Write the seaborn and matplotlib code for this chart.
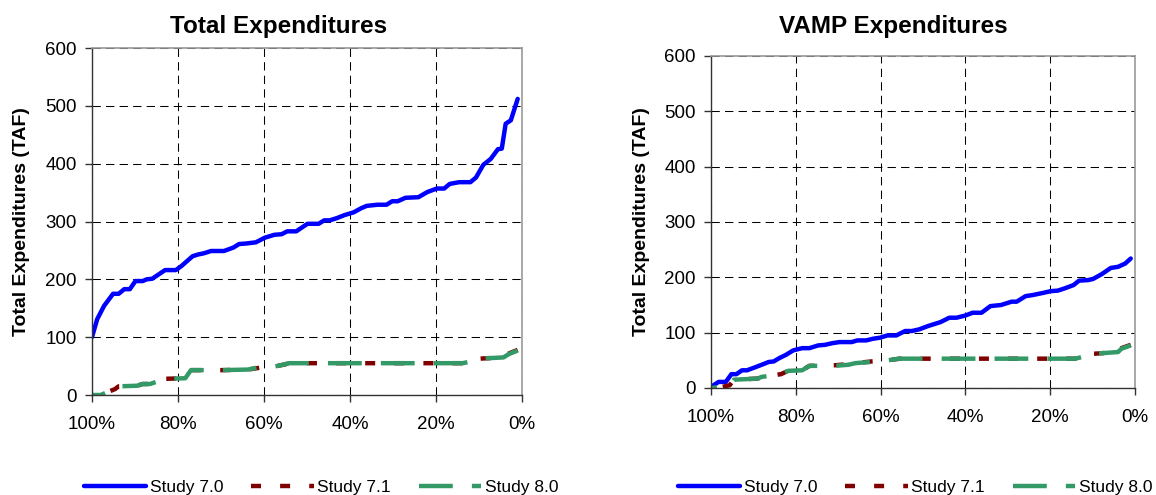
import matplotlib
matplotlib.use("Agg")
import matplotlib.pyplot as plt
import seaborn as sns

# exceedance probability (%) and expenditures (TAF)
total_x_70 = [100, 98.8, 97.2, 95.1, 93.8, 92.5, 91.2, 89.9, 88.2, 87.3, 86.0, 83.0, 80.5, 79.2,
              76.6, 75.3, 74.0, 72.3, 69.3, 67.1, 65.8, 64.1, 61.9, 59.8, 57.6, 55.9, 54.6, 52.5,
              49.9, 47.3, 46.0, 44.7, 43.0, 41.3, 39.1, 37.4, 36.1, 33.6, 31.5, 30.2, 28.9, 27.1,
              24.1, 22.0, 19.8, 18.1, 16.8, 14.6, 12.0, 10.7, 9.0, 7.3, 5.6, 4.7, 3.8, 2.6, 1.0]
total_y_70 = [100, 131, 154, 175, 175, 183, 183, 197, 197, 200, 201, 216, 216, 223,
              240, 243, 245, 249, 249, 255, 261, 262, 264, 272, 277, 278, 283, 283,
              296, 296, 302, 302, 306, 311, 316, 323, 327, 329, 329, 335, 335, 341,
              342, 351, 357, 357, 365, 368, 368, 376, 398, 408, 425, 426, 469, 475, 512]

total_x_71 = [100, 98.0, 96.4, 94.7, 93.8, 89.5, 88.2, 86.5, 83.0, 78.3, 77.0, 69.7, 63.7, 61.1,
              57.7, 55.1, 54.2, 13.8, 12.5, 11.5, 9.5, 4.3, 3.0, 1.0]
total_y_71 = [0, 0, 5, 10, 15, 16, 19, 19, 28, 29, 43, 43, 44, 47,
              49, 53, 55, 55, 57, 62, 63, 65, 72, 78]
total_x_80 = [100, 98.0, 96.4, 94.7, 93.8, 89.5, 88.2, 86.5, 83.0, 78.3, 77.0, 69.7, 63.7, 61.1,
              57.7, 55.1, 54.2, 13.8, 12.5, 11.5, 9.5, 4.3, 3.0, 1.0]
total_y_80 = [0, 0, 5, 10, 15, 16, 19, 19, 28, 29, 43, 43, 44, 48,
              49, 53, 55, 55, 57, 62, 63, 65, 71, 77]

vamp_x_70 = [100, 99.4, 98.2, 96.5, 95.2, 94.0, 92.7, 91.5, 89.4, 87.7, 86.4, 85.2, 83.9, 82.3,
             80.6, 78.5, 76.8, 74.7, 73.1, 71.4, 69.7, 66.8, 65.5, 63.4, 61.8, 60.1, 58.4, 56.3,
             54.2, 52.6, 50.9, 48.8, 45.9, 43.8, 42.1, 40.0, 38.3, 36.2, 34.1, 31.6, 29.1, 27.9,
             25.8, 24.1, 21.6, 19.9, 18.2, 16.6, 14.5, 13.2, 11.1, 9.9, 7.8, 5.7, 4.0, 2.3, 1.0]
vamp_y_70 = [0, 5, 11, 11, 25, 25, 32, 32, 38, 43, 47, 48, 54, 60,
             68, 72, 72, 77, 78, 81, 83, 83, 86, 86, 89, 91, 95, 95,
             103, 103, 106, 112, 119, 127, 127, 131, 136, 136, 148, 150, 156, 156,
             166, 168, 172, 175, 176, 180, 186, 194, 195, 197, 206, 217, 219, 225, 234]

vamp_x_71 = [100, 97.3, 95.6, 94.6, 89.0, 88.1, 83.5, 81.8, 78.5, 76.8, 71.0, 67.6, 65.9, 62.2,
             58.4, 55.5, 14.1, 12.5, 11.5, 9.5, 4.0, 3.2, 1.0]
vamp_y_71 = [0, 2, 5, 15, 17, 20, 25, 31, 32, 40, 41, 43, 45, 48,
             50, 53, 53, 56, 62, 62, 65, 72, 78]
vamp_x_80 = [100, 97.3, 95.6, 94.6, 89.0, 88.1, 83.5, 81.8, 78.5, 76.8, 71.0, 67.6, 65.9, 62.2,
             58.4, 55.5, 14.1, 12.5, 11.5, 9.5, 4.0, 3.2, 1.0]
vamp_y_80 = [0, 2, 5, 15, 17, 20, 25, 31, 32, 40, 40, 42, 45, 47,
             50, 53, 53, 56, 62, 62, 65, 71, 77]

x_ticks = [100, 80, 60, 40, 20, 0]
y_ticks = [0, 100, 200, 300, 400, 500, 600]
labels = ["Study 7.0", "Study 7.1", "Study 8.0"]

sns.set_theme(style="whitegrid")
plt.rcParams["font.family"] = ["Liberation Sans", "DejaVu Sans"]
plt.rcParams["text.color"] = "black"

LW = 3.2
styles = [
    dict(color="#0000ff", lw=LW, solid_capstyle="round"),
    dict(color="#800000", lw=LW, linestyle=(0, (2.25, 4.3))),
    dict(color="#339966", lw=LW, linestyle=(0, (7.6, 4.3))),
]

fig = plt.figure(figsize=(11.56, 4.95), dpi=100)
ax1 = fig.add_axes([92 / 1156, 1 - 395 / 495, 430 / 1156, 347 / 495])
ax2 = fig.add_axes([711 / 1156, 1 - 388 / 495, 424 / 1156, 332 / 495])

panels = [
    (ax1, [(total_x_70, total_y_70), (total_x_71, total_y_71), (total_x_80, total_y_80)],
     "Total Expenditures", 279, 0.2777),
    (ax2, [(vamp_x_70, vamp_y_70), (vamp_x_71, vamp_y_71), (vamp_x_80, vamp_y_80)],
     "VAMP Expenditures", 893, 0.7915),
]

for ax, series, title, title_x, leg_x in panels:
    for (xs, ys), lab, st in zip(series, labels, styles):
        sns.lineplot(x=xs, y=ys, ax=ax, label=lab, **st)
    ax.set_xlim(100, 0)
    ax.set_ylim(0, 600)
    ax.set_xticks(x_ticks)
    ax.set_xticklabels([f"{t}%" for t in x_ticks])
    ax.set_yticks(y_ticks)
    ax.grid(True, color="black", lw=0.75, linestyle=(0, (8, 5)))
    for side in ["left", "bottom"]:
        ax.spines[side].set_color("#333333")
        ax.spines[side].set_linewidth(1.0)
    for side in ["top", "right"]:
        ax.spines[side].set_color("#999999")
        ax.spines[side].set_linewidth(1.2)
    ax.tick_params(axis="both", bottom=True, left=True, direction="out", length=5,
                   width=1, color="#333333", labelsize=13.5, labelcolor="black")
    ax.tick_params(axis="x", pad=10)
    ax.tick_params(axis="y", pad=6)
    ax.set_ylabel("Total Expenditures (TAF)", fontsize=14, fontweight="bold", color="black")
    ax.yaxis.set_label_coords(-0.145, 0.5)
    ax.set_xlabel("")
    handles = ax.get_lines()[:3]
    ax.get_legend().remove()
    fig.text(title_x / 1156, 1 - 33 / 495, title, ha="center", va="baseline",
             fontsize=17.5, fontweight="bold", color="black")
    fig.legend(handles, labels, loc="center", bbox_to_anchor=(leg_x, 0.016), ncol=3,
               frameon=False, fontsize=12.5, handlelength=3.6, handletextpad=0.2,
               columnspacing=1.6, borderpad=0)

fig.savefig("out.png", dpi=100)
